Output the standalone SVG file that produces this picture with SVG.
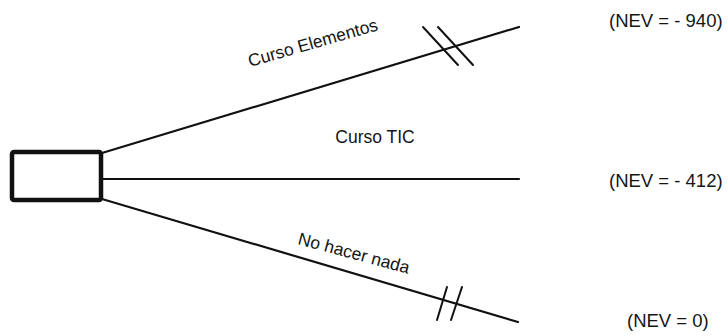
<svg xmlns="http://www.w3.org/2000/svg" width="728" height="336" viewBox="0 0 728 336">
<style>
.ln{stroke:#111;stroke-width:2.2;fill:none;stroke-linecap:round}
.hs{stroke:#111;stroke-width:2;fill:none;stroke-linecap:round}
.t{font-family:"Liberation Sans",Arial,sans-serif;font-size:17.5px;fill:#151515}
.v{font-family:"Liberation Sans",Arial,sans-serif;font-size:18.5px;fill:#151515}
</style>
<rect width="728" height="336" fill="#fff"/>
<g id="connectors">
<line class="ln" x1="102" y1="153" x2="519" y2="27"/>
<line class="ln" x1="102" y1="179" x2="519" y2="179"/>
<line class="ln" x1="102" y1="199" x2="518" y2="322"/>
<line class="hs" x1="423" y1="27" x2="458" y2="65"/>
<line class="hs" x1="438" y1="27" x2="473" y2="65"/>
<line class="hs" x1="447" y1="287" x2="437" y2="320"/>
<line class="hs" x1="462" y1="287" x2="451" y2="320"/>
<text class="t" x="250" y="67" transform="rotate(-16 250 67)">Curso Elementos</text>
<text class="t" x="375" y="143" text-anchor="middle">Curso TIC</text>
<text class="t" x="297" y="244" transform="rotate(15 297 244)">No hacer nada</text>
</g>
<g id="decision">
<rect x="12" y="152" width="89" height="48" rx="2" fill="#fff" stroke="#111" stroke-width="4.5"/>
</g>
<g id="outcome1"><text class="v" x="609" y="27">(NEV = -  940)</text></g>
<g id="outcome2"><text class="v" x="609" y="187">(NEV = -  412)</text></g>
<g id="outcome3"><text class="v" x="627" y="327">(NEV = 0)</text></g>
</svg>
